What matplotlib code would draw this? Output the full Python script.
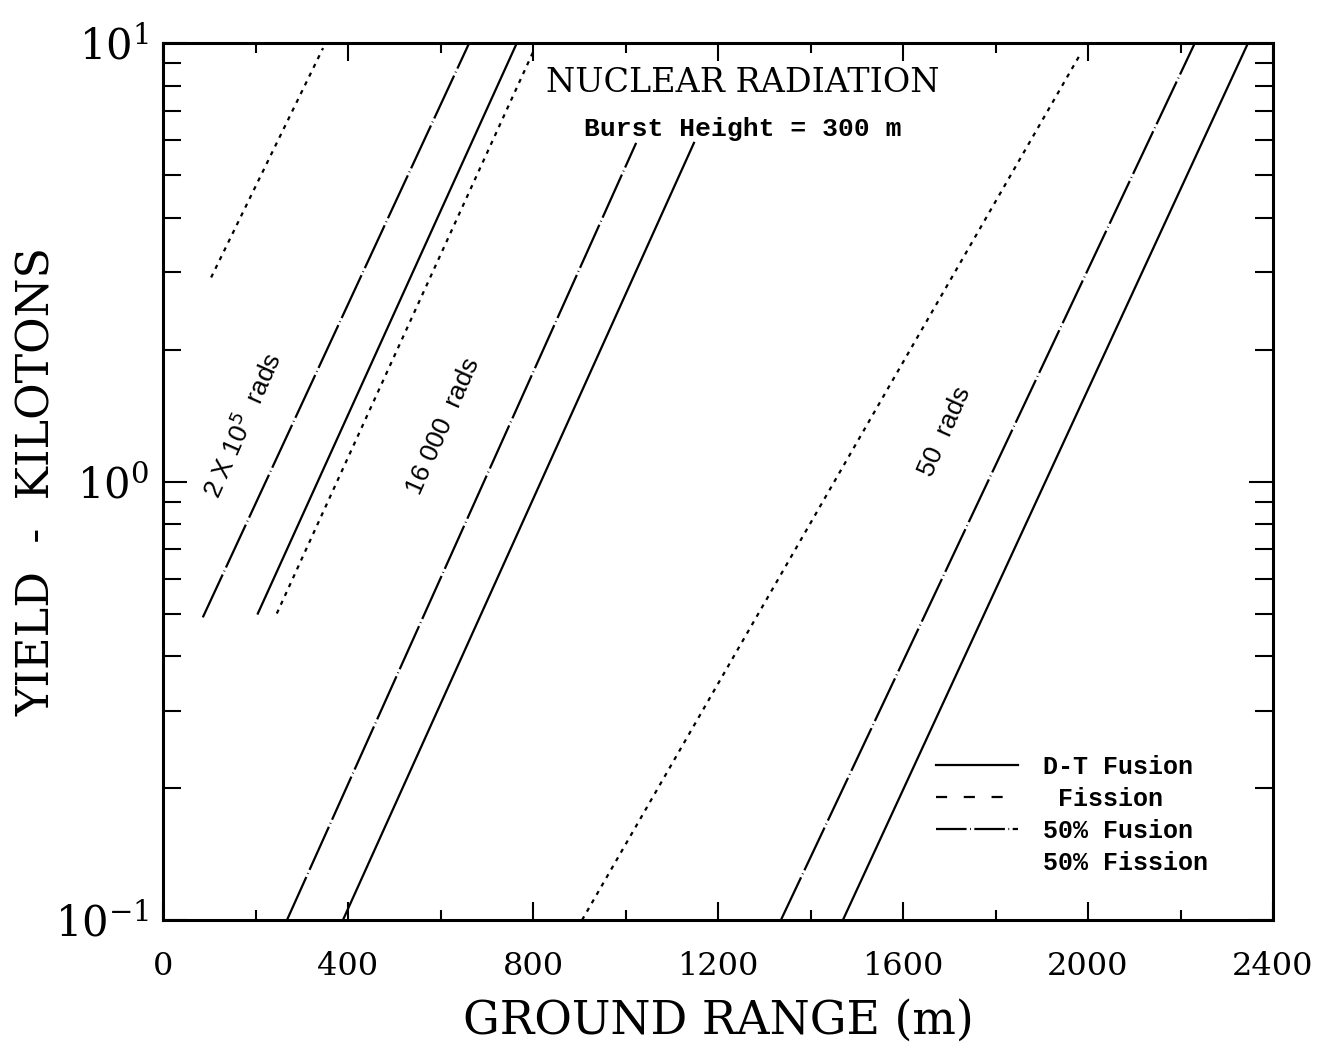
import matplotlib
matplotlib.use("Agg")
import matplotlib.pyplot as plt
from matplotlib.lines import Line2D
from matplotlib.ticker import MultipleLocator, LogLocator, NullFormatter

plt.rcParams['lines.scale_dashes'] = False
plt.rcParams['font.family'] = 'DejaVu Serif'
plt.rcParams['mathtext.fontset'] = 'dejavuserif'

# Ground range (m) and yield (kt) end points of each curve
# 2 x 10^5 rads
r200k_fission_x = [104, 346]
r200k_fission_y = [2.92, 9.74]
r200k_mixed_x = [86, 662]
r200k_mixed_y = [0.49, 10]
r200k_fusion_x = [205, 765]
r200k_fusion_y = [0.50, 10]
# 16 000 rads
r16k_fission_x = [246, 804]
r16k_fission_y = [0.50, 9.74]
r16k_mixed_x = [268, 1023]
r16k_mixed_y = [0.1, 5.92]
r16k_fusion_x = [389, 1148]
r16k_fusion_y = [0.1, 5.92]
# 50 rads
r50_fission_x = [906, 1985]
r50_fission_y = [0.1, 9.5]
r50_mixed_x = [1336, 2231]
r50_mixed_y = [0.1, 10]
r50_fusion_x = [1470, 2346]
r50_fusion_y = [0.1, 10]

x_ticks = [0, 400, 800, 1200, 1600, 2000, 2400]

# line styles
solid = dict(color='black', lw=1.6, linestyle='-')
dotted = dict(color='black', lw=1.6, dashes=(3, 4))
dashdot = dict(color='black', lw=1.6, dashes=(34, 2.5, 0.6, 2.5))

fig = plt.figure(figsize=(13.33, 10.63), dpi=100)
ax = fig.add_axes([0.1223, 0.1345, 0.8327, 0.825])

for xs, ys in [(r200k_fission_x, r200k_fission_y), (r16k_fission_x, r16k_fission_y),
               (r50_fission_x, r50_fission_y)]:
    ax.plot(xs, ys, **dotted)
for xs, ys in [(r200k_mixed_x, r200k_mixed_y), (r16k_mixed_x, r16k_mixed_y),
               (r50_mixed_x, r50_mixed_y)]:
    ax.plot(xs, ys, **dashdot)
for xs, ys in [(r200k_fusion_x, r200k_fusion_y), (r16k_fusion_x, r16k_fusion_y),
               (r50_fusion_x, r50_fusion_y)]:
    ax.plot(xs, ys, **solid)

ax.set_yscale('log')
ax.set_xlim(0, 2400)
ax.set_ylim(0.1, 10)

# ticks
ax.set_xticks(x_ticks)
ax.xaxis.set_minor_locator(MultipleLocator(200))
ax.yaxis.set_major_locator(LogLocator(base=10))
ax.yaxis.set_minor_locator(LogLocator(base=10, subs=range(2, 10)))
ax.yaxis.set_minor_formatter(NullFormatter())
ax.tick_params(axis='x', which='major', direction='in', length=13, width=1.5,
               top=True, pad=22, labelsize=23)
ax.tick_params(axis='x', which='minor', direction='in', length=7, width=1.5, top=True)
ax.tick_params(axis='y', which='major', direction='in', length=17, width=1.5,
               right=True, pad=10, labelsize=30)
ax.tick_params(axis='y', which='minor', direction='in', length=13, width=1.5, right=True)
for sp in ax.spines.values():
    sp.set_linewidth(2.2)

ax.set_xlabel('GROUND RANGE (m)', fontsize=33, labelpad=12)
ax.set_ylabel('YIELD  -  KILOTONS', fontsize=32)
ax.yaxis.set_label_coords(-0.094, 0.5)

# titles inside
ax.text(0.522, 0.955, 'NUCLEAR RADIATION', transform=ax.transAxes, ha='center', va='center',
        fontsize=24)
ax.text(0.522, 0.902, 'Burst Height = 300 m', transform=ax.transAxes, ha='center', va='center',
        fontsize=19, fontfamily='Liberation Mono', fontweight='bold')

# curve labels
lab_kw = dict(rotation=66, ha='center', va='center', fontsize=19,
              fontfamily='Liberation Sans', rotation_mode='anchor')
ax.text(172, 1.34, r'2 X 10$^{\mathsf{5}}$  rads', **lab_kw)
ax.text(607, 1.34, '16 000  rads', **lab_kw)
ax.text(1690, 1.30, '50  rads', **lab_kw)

# legend
handles = [Line2D([], [], color='black', lw=1.6),
           Line2D([], [], color='black', lw=1.6, dashes=(8, 12)),
           Line2D([], [], color='black', lw=1.6, dashes=(22, 2.5, 0.6, 2.5)),
           Line2D([], [], color='none')]
labels = ['D-T Fusion', ' Fission', '50% Fusion', '50% Fission']
ax.legend(handles, labels, loc='lower right', bbox_to_anchor=(0.962, 0.026), frameon=False,
          handlelength=3.3, handletextpad=1.0, labelspacing=0.32,
          prop={'family': 'Liberation Mono', 'weight': 'bold', 'size': 18})

fig.savefig('out.png', dpi=100)
